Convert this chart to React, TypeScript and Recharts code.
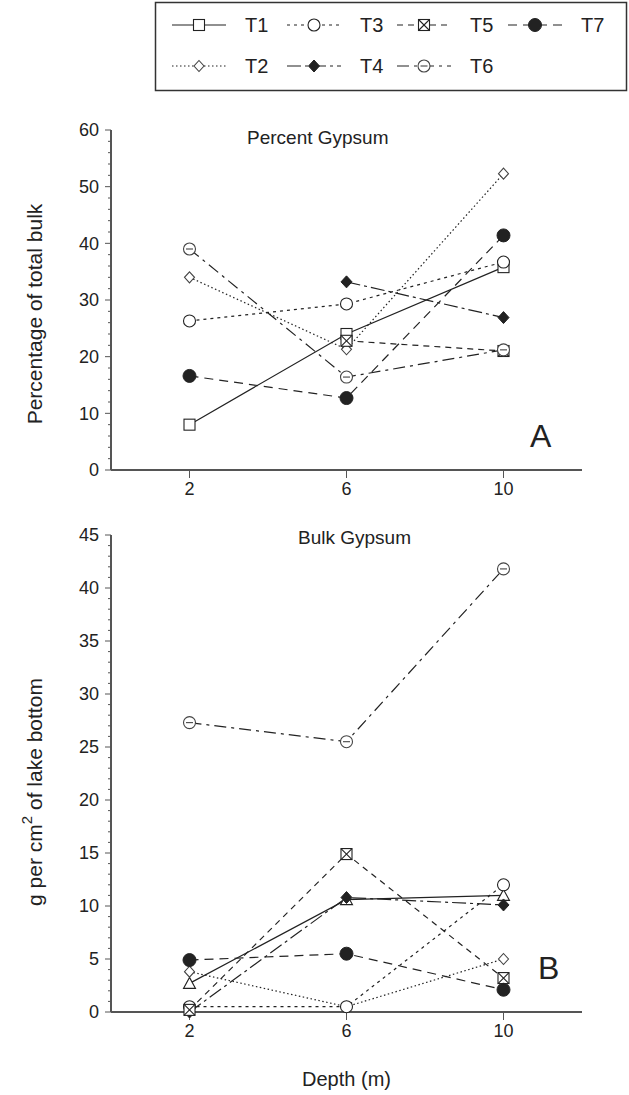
import React from "react";
import { LineChart, Line, XAxis, YAxis } from "recharts";

// depth in metres (x axis)
const depths = [2, 6, 10];
const depthTicks = [2, 6, 10];

// Panel A: percent gypsum of total bulk
const percentT1 = [8, 24, 35.8];
const percentT2 = [34, 21.3, 52.3];
const percentT3 = [26.3, 29.3, 36.7];
const percentT4 = [null, 33.2, 26.9];
const percentT5 = [null, 22.8, 21];
const percentT6 = [39, 16.4, 21.2];
const percentT7 = [16.6, 12.7, 41.4];

// Panel B: bulk gypsum, g per cm2 of lake bottom
const bulkT1 = [2.7, 10.6, 11];
const bulkT2 = [3.8, 0.5, 5];
const bulkT3 = [0.5, 0.5, 12];
const bulkT4 = [0, 10.8, 10.1];
const bulkT5 = [0.2, 14.9, 3.2];
const bulkT6 = [27.3, 25.5, 41.8];
const bulkT7 = [4.9, 5.5, 2.1];

const percentMajor = [0, 10, 20, 30, 40, 50, 60];
const percentTicks = [0, 2, 4, 6, 8, 10, 12, 14, 16, 18, 20, 22, 24, 26, 28, 30, 32, 34, 36, 38, 40, 42, 44, 46, 48, 50, 52, 54, 56, 58, 60];
const bulkMajor = [0, 5, 10, 15, 20, 25, 30, 35, 40, 45];
const bulkTicks = [0, 1, 2, 3, 4, 5, 6, 7, 8, 9, 10, 11, 12, 13, 14, 15, 16, 17, 18, 19, 20, 21, 22, 23, 24, 25, 26, 27, 28, 29, 30, 31, 32, 33, 34, 35, 36, 37, 38, 39, 40, 41, 42, 43, 44, 45];

const seriesNames = ["T1", "T2", "T3", "T4", "T5", "T6", "T7"];

const percentData = depths.map((d, i) => ({
  depth: d,
  T1: percentT1[i],
  T2: percentT2[i],
  T3: percentT3[i],
  T4: percentT4[i],
  T5: percentT5[i],
  T6: percentT6[i],
  T7: percentT7[i],
}));

const bulkData = depths.map((d, i) => ({
  depth: d,
  T1: bulkT1[i],
  T2: bulkT2[i],
  T3: bulkT3[i],
  T4: bulkT4[i],
  T5: bulkT5[i],
  T6: bulkT6[i],
  T7: bulkT7[i],
}));

const INK = "#222";
const AXIS = "#555";
const AXIS_X = 111;

const lineStyle: Record<string, { dash?: string; marker: string }> = {
  T1: { dash: undefined, marker: "square" },
  T2: { dash: "1.5 2.5", marker: "diamond" },
  T3: { dash: "3 4", marker: "circle" },
  T4: { dash: "14 4 3 4", marker: "filledDiamond" },
  T5: { dash: "6 5", marker: "crossSquare" },
  T6: { dash: "12 5 3 5", marker: "dashCircle" },
  T7: { dash: "9 6", marker: "filledCircle" },
};

const Marker = ({ kind, cx, cy }: { kind: string; cx: number; cy: number }) => {
  const sw = 1.1;
  switch (kind) {
    case "square":
      return <rect x={cx - 5.5} y={cy - 5.5} width={11} height={11} fill="#fff" stroke={INK} strokeWidth={sw} />;
    case "triangle":
      return (
        <polygon
          points={`${cx},${cy - 6} ${cx + 6},${cy + 5} ${cx - 6},${cy + 5}`}
          fill="#fff"
          stroke={INK}
          strokeWidth={sw}
        />
      );
    case "diamond":
      return (
        <polygon
          points={`${cx},${cy - 5.5} ${cx + 5},${cy} ${cx},${cy + 5.5} ${cx - 5},${cy}`}
          fill="#fff"
          stroke="#444"
          strokeWidth={sw}
        />
      );
    case "circle":
      return <circle cx={cx} cy={cy} r={6} fill="#fff" stroke={INK} strokeWidth={sw} />;
    case "filledDiamond":
      return (
        <polygon
          points={`${cx},${cy - 6} ${cx + 5.5},${cy} ${cx},${cy + 6} ${cx - 5.5},${cy}`}
          fill={INK}
          stroke={INK}
        />
      );
    case "crossSquare":
      return (
        <g>
          <rect x={cx - 5.5} y={cy - 5.5} width={11} height={11} fill="#fff" stroke={INK} strokeWidth={sw} />
          <line x1={cx - 5.5} y1={cy - 5.5} x2={cx + 5.5} y2={cy + 5.5} stroke={INK} strokeWidth={sw} />
          <line x1={cx + 5.5} y1={cy - 5.5} x2={cx - 5.5} y2={cy + 5.5} stroke={INK} strokeWidth={sw} />
        </g>
      );
    case "dashCircle":
      return (
        <g>
          <circle cx={cx} cy={cy} r={6} fill="#fff" stroke="#444" strokeWidth={sw} />
          <line x1={cx - 3.5} y1={cy} x2={cx + 3.5} y2={cy} stroke="#444" strokeWidth={sw} />
        </g>
      );
    case "filledCircle":
      return <circle cx={cx} cy={cy} r={6.5} fill={INK} stroke={INK} />;
    default:
      return null;
  }
};

const makeDot = (kind: string) => (props: any) => {
  const { cx, cy, index } = props;
  if (cx == null || cy == null || props.value == null) return <g key={`e-${index}`} />;
  return (
    <g key={`m-${index}`}>
      <Marker kind={kind} cx={cx} cy={cy} />
    </g>
  );
};

const makeYTick = (majors: number[]) => (props: any) => {
  const { y, payload } = props;
  const major = majors.includes(payload.value);
  return (
    <g>
      <line x1={AXIS_X - (major ? 6 : 3)} x2={AXIS_X} y1={y} y2={y} stroke={AXIS} strokeWidth={1} />
      {major && (
        <text x={AXIS_X - 12} y={y} dy="0.35em" textAnchor="end" fontSize={18} fill={INK}>
          {payload.value}
        </text>
      )}
    </g>
  );
};

const YTitle = ({ cyPos, children }: any) => {
  const cx = 35;
  const cy = cyPos;
  return (
    <text
      x={cx}
      y={cy}
      transform={`rotate(-90 ${cx} ${cy})`}
      textAnchor="middle"
      dy="0.35em"
      fontSize={21}
      fill={INK}
    >
      {children}
    </text>
  );
};

const renderLines = (override?: Record<string, string>) =>
  seriesNames.map((name) => {
    const st = lineStyle[name];
    const marker = override && override[name] ? override[name] : st.marker;
    return (
      <Line
        key={name}
        dataKey={name}
        type="linear"
        stroke={INK}
        strokeWidth={1.2}
        strokeDasharray={st.dash}
        dot={makeDot(marker)}
        activeDot={false}
        isAnimationActive={false}
        connectNulls={false}
      />
    );
  });

const LegendBox = () => {
  const rows = [
    [
      { name: "T1", x: 172 },
      { name: "T3", x: 287 },
      { name: "T5", x: 397 },
      { name: "T7", x: 508 },
    ],
    [
      { name: "T2", x: 172 },
      { name: "T4", x: 287 },
      { name: "T6", x: 397 },
    ],
  ];
  const rowY = [25, 66];
  return (
    <svg width={629} height={95} style={{ position: "absolute", left: 0, top: 0 }}>
      <rect x={155.5} y={2.5} width={471} height={88} fill="#fff" stroke="#333" strokeWidth={1.5} />
      {rows.map((row, r) =>
        row.map((it) => {
          const st = lineStyle[it.name];
          const y = rowY[r];
          return (
            <g key={it.name}>
              <line x1={it.x} x2={it.x + 54} y1={y} y2={y} stroke={INK} strokeWidth={1.2} strokeDasharray={st.dash} />
              <Marker kind={st.marker} cx={it.x + 27} cy={y} />
              <text x={it.x + 73} y={y} dy="0.35em" fontSize={20} fill={INK}>
                {it.name}
              </text>
            </g>
          );
        })
      )}
    </svg>
  );
};

const App = () => {
  return (
    <div
      style={{
        position: "absolute",
        left: 0,
        top: 0,
        width: 629,
        height: 1095,
        background: "#fff",
        fontFamily: "'Liberation Sans', Arial, sans-serif",
      }}
    >
      <div style={{ position: "absolute", left: 0, top: 0 }}>
        <LineChart width={629} height={510} data={percentData} margin={{ top: 130, right: 47, bottom: 10, left: 51 }}>
          <XAxis
            dataKey="depth"
            type="number"
            domain={[0, 12]}
            ticks={depthTicks}
            height={30}
            tickSize={8}
            tickMargin={4}
            tick={{ fill: INK, fontSize: 18 }}
            tickLine={{ stroke: AXIS }}
            axisLine={{ stroke: AXIS, strokeWidth: 2 }}
          />
          <YAxis
            type="number"
            domain={[0, 60]}
            ticks={percentTicks}
            interval={0}
            width={60}
            tickSize={6}
            tickLine={false}
            axisLine={{ stroke: AXIS, strokeWidth: 2 }}
            tick={makeYTick(percentMajor)}
            label={() => <YTitle cyPos={314}>Percentage of total bulk</YTitle>}
          />
          {renderLines()}
        </LineChart>
      </div>

      <div style={{ position: "absolute", left: 0, top: 510 }}>
        <LineChart width={629} height={585} data={bulkData} margin={{ top: 25, right: 47, bottom: 3, left: 51 }}>
          <XAxis
            dataKey="depth"
            type="number"
            domain={[0, 12]}
            ticks={depthTicks}
            height={80}
            tickSize={8}
            tickMargin={4}
            tick={{ fill: INK, fontSize: 18 }}
            tickLine={{ stroke: AXIS }}
            axisLine={{ stroke: AXIS, strokeWidth: 2 }}
            label={{ value: "Depth (m)", position: "insideBottom", offset: 6, fill: INK, fontSize: 20 }}
          />
          <YAxis
            type="number"
            domain={[0, 45]}
            ticks={bulkTicks}
            interval={0}
            width={60}
            tickSize={6}
            tickLine={false}
            axisLine={{ stroke: AXIS, strokeWidth: 2 }}
            tick={makeYTick(bulkMajor)}
            label={() => (
              <YTitle cyPos={282}>
                <tspan>g per cm</tspan>
                <tspan dy={-10} fontSize={15}>2</tspan>
                <tspan dy={10}> of lake bottom</tspan>
              </YTitle>
            )}
          />
          {renderLines({ T1: "triangle" })}
        </LineChart>
      </div>

      <div style={{ position: "absolute", left: 247, top: 127, fontSize: 19, color: INK }}>Percent Gypsum</div>
      <div style={{ position: "absolute", left: 298, top: 527, fontSize: 19, color: INK }}>Bulk Gypsum</div>
      <div style={{ position: "absolute", left: 530, top: 418, fontSize: 32, color: INK }}>A</div>
      <div style={{ position: "absolute", left: 538, top: 950, fontSize: 32, color: INK }}>B</div>

      <LegendBox />
    </div>
  );
};

export default App;
